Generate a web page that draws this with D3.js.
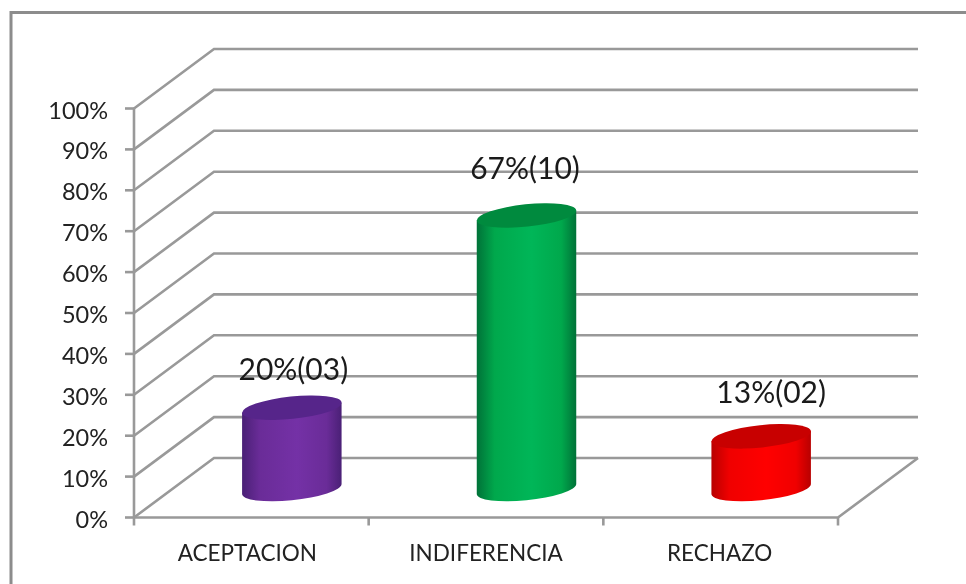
<!DOCTYPE html>
<html><head><meta charset="utf-8">
<style>html,body{margin:0;padding:0;background:#fff}svg{display:block;filter:blur(0.45px)}</style>
<script src="https://cdn.jsdelivr.net/npm/d3@7/dist/d3.min.js"></script>
</head><body><svg id="c" width="966" height="584"></svg>
<script>
const categories = ["ACEPTACION","INDIFERENCIA","RECHAZO"];
const values = [20,67,13];
const dataLabels = ["20%(03)","67%(10)","13%(02)"];
const yTicks = [0,10,20,30,40,50,60,70,80,90,100];
const sideColors = [["#4a2076","#6a2c98","#7431a6"],["#007238","#00a84c","#00b658"],["#b80000","#f00000","#ff0000"]];
const topColors = ["#56258a","#008a3e","#c80000"];
const labelLift = [28,36,33];

const svg = d3.select("#c");
const gray = "#999999", lw = 2.6;
const depthX = 80, depthY = -59.5;
const y = d3.scaleLinear().domain([0,100]).range([517.5,108.5]);
const x = d3.scaleBand().domain(categories).range([134,838]);
svg.append("path").attr("d","M11,590V12.5H975").attr("fill","none").attr("stroke","#8c8c8c").attr("stroke-width",3);

const grid = svg.append("g").attr("fill","none").attr("stroke",gray).attr("stroke-width",lw);
yTicks.forEach(t=>{
  const p = d3.path(); const yy=y(t);
  p.moveTo(134,yy); p.lineTo(134+depthX,yy+depthY); p.lineTo(838+depthX,yy+depthY);
  grid.append("path").attr("d",p.toString());
  grid.append("line").attr("x1",125).attr("x2",134).attr("y1",yy).attr("y2",yy);
});
grid.append("line").attr("x1",134).attr("x2",134).attr("y1",y(100)).attr("y2",y(0)+8);
grid.append("path").attr("d",`M134,${y(0)}H838L${838+depthX},${y(0)+depthY}`);
x.domain().forEach(c=>{const xx=x(c)+x.bandwidth();grid.append("line").attr("x1",xx).attr("x2",xx).attr("y1",y(0)).attr("y2",y(0)+8);});

const font = "Lato, 'Open Sans', sans-serif";
svg.append("g").selectAll("text").data(yTicks).join("text")
  .attr("x",108).attr("y",d=>y(d)+10).attr("text-anchor","end")
  .attr("font-family",font).attr("font-size",23.5).attr("fill","#222")
  .text(d=>d+"%");
svg.append("g").selectAll("text").data(categories).join("text")
  .attr("x",d=>x(d)+x.bandwidth()/2+({ACEPTACION:-4,INDIFERENCIA:0,RECHAZO:-1})[d]).attr("y",561).attr("text-anchor","middle")
  .attr("font-family",font).attr("font-size",22.5).attr("fill","#222")
  .text(d=>d);

const defs = svg.append("defs");
const a=50, b=11.2, rot=-6, th=rot*Math.PI/180;
const hx=Math.sqrt((a*Math.cos(th))**2+(b*Math.sin(th))**2);
const ex=hx, ey=(a*a-b*b)*Math.sin(th)*Math.cos(th)/hx;
const base = 489, pxPerUnit = (y(0)-y(100))/100;
categories.forEach((c,i)=>{
  const cx = x(c)+x.bandwidth()/2+depthX/2+0.5;
  const cyTop = 489.5 - values[i]*pxPerUnit;
  const g = defs.append("linearGradient").attr("id","g"+i);
  [[0,0],[0.18,1],[0.55,2],[0.85,1],[1,0]].forEach(([o,k])=>g.append("stop").attr("offset",o).attr("stop-color",sideColors[i][k]));
  svg.append("path")
    .attr("d",`M${cx-ex},${cyTop-ey}L${cx-ex},${base-ey}A${a},${b} ${rot} 0 0 ${cx+ex},${base+ey}L${cx+ex},${cyTop+ey}Z`)
    .attr("fill",`url(#g${i})`);
  svg.append("ellipse").attr("rx",a).attr("ry",b)
    .attr("transform",`translate(${cx},${cyTop}) rotate(${rot})`)
    .attr("fill",topColors[i]);
  svg.append("text").attr("x",cx+[1.5,-1.5,10][i]).attr("y",cyTop-labelLift[i]).attr("text-anchor","middle")
    .attr("font-family",font).attr("font-size",30).attr("fill","#1a1a1a").text(dataLabels[i]);
});
</script></body></html>
